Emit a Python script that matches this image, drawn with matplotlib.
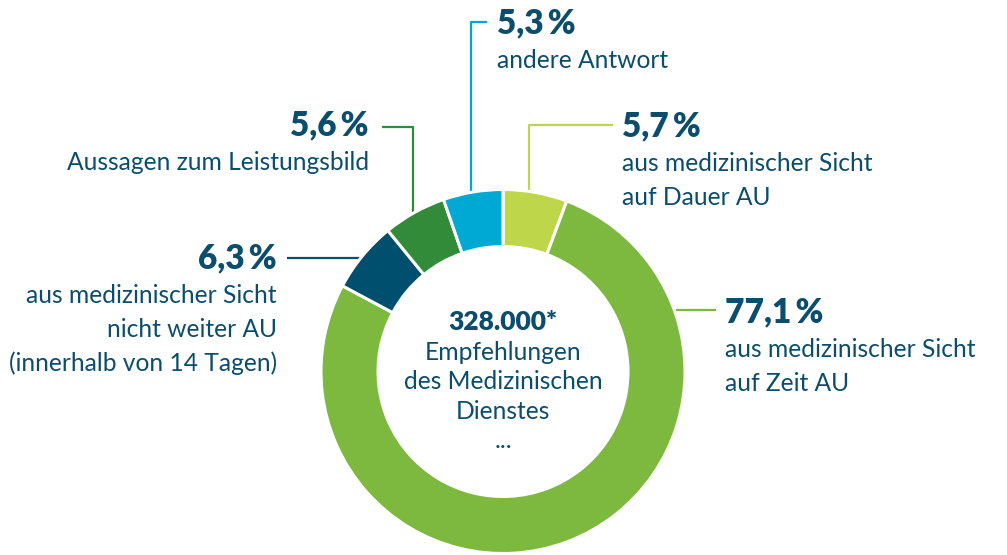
import matplotlib
matplotlib.use('Agg')
import matplotlib.pyplot as plt

# data (clockwise from 12 o'clock)
shares = [5.7, 77.1, 6.3, 5.6, 5.3]
share_labels = ['5,7\u2009%', '77,1\u2009%', '6,3\u2009%', '5,6\u2009%', '5,3\u2009%']
descriptions = [
    ['aus medizinischer Sicht', 'auf Dauer AU'],
    ['aus medizinischer Sicht', 'auf Zeit AU'],
    ['aus medizinischer Sicht', 'nicht weiter AU', '(innerhalb von 14 Tagen)'],
    ['Aussagen zum Leistungsbild'],
    ['andere Antwort'],
]
center_title = '328.000*'
center_lines = ['Empfehlungen', 'des Medizinischen', 'Dienstes', '...']

colors = ['#bdd64a', '#7cb93e', '#004f6e', '#318b38', '#00a9d4']
TEXT = '#0b4d6c'
FONT = ['Lato', 'DejaVu Sans']
BODY = 17.7


def Y(py):
    # pixel row (from top) -> data y
    return H - py


W, H = 1007, 555
fig = plt.figure(figsize=(W / 100, H / 100), dpi=100)
ax = fig.add_axes([0, 0, 1, 1])

cx, cy, r_out, r_in = 503, 371.5, 182, 125
ax.pie(shares, colors=colors, startangle=90, counterclock=False,
       radius=r_out, center=(cx, Y(cy)), frame=True,
       wedgeprops=dict(width=r_out - r_in, edgecolor='white', linewidth=2.2))
for w in ax.patches:
    w.set_zorder(3)

# leader lines (pixel paths), one per slice
leaders = [
    [(529, 195), (529, 125), (613, 125)],
    [(660, 310), (716, 310)],
    [(365, 258), (287, 258)],
    [(413, 212), (413, 127), (382, 127)],
    [(471, 195), (471, 22), (487, 22)],
]
for path, col in zip(leaders, colors):
    xs = [p[0] for p in path]
    ys = [Y(p[1]) for p in path]
    ax.plot(xs, ys, color=col, linewidth=1.6, zorder=2, solid_capstyle='butt')

# label anchors: x, baseline of percentage, alignment
anchors = [(622, 136, 'left'), (725, 322, 'left'), (277, 268, 'right'),
           (369, 135, 'right'), (497, 33, 'left')]
first_gap, line_gap = 35, 34
for (x, base, ha), pct, desc in zip(anchors, share_labels, descriptions):
    ax.text(x, Y(base), pct, ha=ha, va='baseline', color=TEXT,
            fontsize=24, fontweight='heavy', family=FONT)
    for i, line in enumerate(desc):
        ax.text(x, Y(base + first_gap + i * line_gap), line, ha=ha, va='baseline',
                color=TEXT, fontsize=BODY, family=FONT)

# center text
ax.text(cx, Y(330), center_title, ha='center', va='baseline', color=TEXT,
        fontsize=19, fontweight='heavy', family=FONT)
for i, line in enumerate(center_lines):
    ax.text(cx, Y(360 + i * 29.3), line, ha='center', va='baseline', color=TEXT,
            fontsize=BODY, family=FONT)

ax.set_xlim(0, W)
ax.set_ylim(0, H)
ax.set_aspect('equal')
ax.axis('off')

fig.savefig('out.png', dpi=100, facecolor='white')
